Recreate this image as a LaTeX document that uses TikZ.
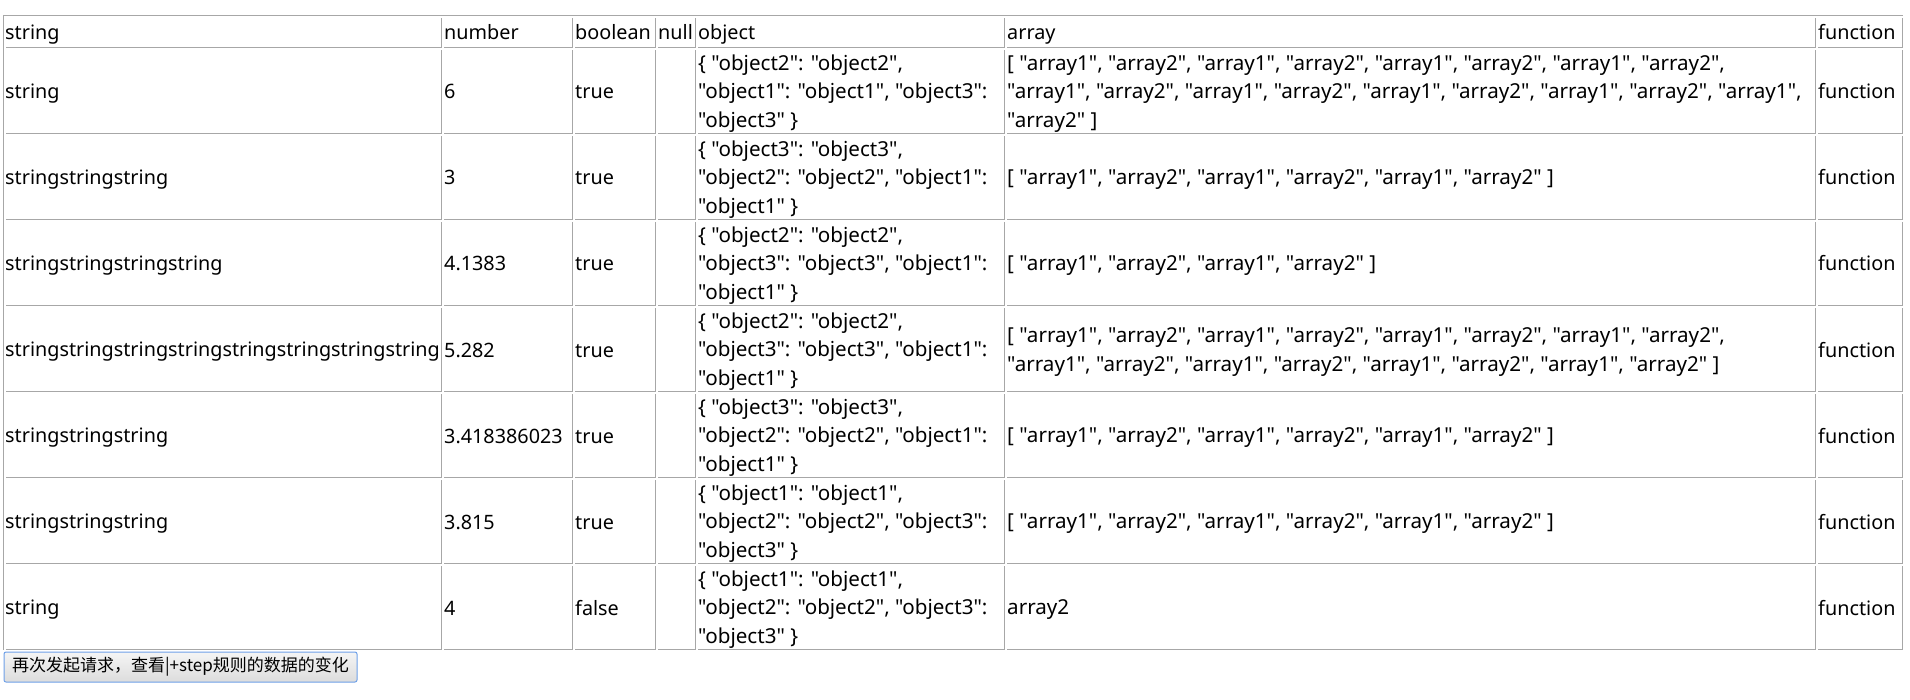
\documentclass[tikz,border=0pt]{standalone}
\usepackage{fontspec}
\setmainfont{Noto Sans}[Ligatures=TeXOff]
\newfontfamily\cjk{Noto Sans CJK SC}
\usepackage{tikz}
\definecolor{gridgray}{RGB}{167,167,167}
\definecolor{btnblue}{RGB}{110,160,232}
\definecolor{btntop}{RGB}{245,245,245}
\definecolor{btnbot}{RGB}{220,220,220}
\newcommand\rs{\rule[-4.5pt]{0pt}{27pt}}

\begin{document}
\begin{tikzpicture}[x=1pt, y=-1pt,
    cell/.style={anchor=west, inner sep=0pt, align=left, font=\fontsize{19.8}{27}\selectfont},
    wide/.style={cell, font=\fontsize{20.6}{27}\selectfont},
    gridline/.style={draw=gridgray, line width=1pt},
    btnbox/.style={draw=btnblue, line width=1pt, rounded corners=2pt, top color=btntop, bottom color=btnbot,
      minimum width=353pt, minimum height=30pt, inner sep=0pt, font=\cjk\fontsize{17}{20}\selectfont}]
  \useasboundingbox (0,0) rectangle (1910,700);
  % table frame and cells
  \draw[gridline] (3,15.5) -- (1903,15.5);
  \draw[gridline] (3.5,15) -- (3.5,650);
  \foreach \t/\b in {15/47,47/133,133/219,219/305,305/391,391/477,477/563,563/649}
    \foreach \l/\r in {3/441,441/572,572/655,655/695,695/1004,1004/1815,1815/1902}
      \draw[gridline] (\l+3,\b+.5) -- (\r+.5,\b+.5) -- (\r+.5,\t+3);

  \foreach \x/\h [count=\i] in {5/string,444/number,575/boolean,658/null,698/object,1007/array,1818/function}
    \node[cell] (h\i) at (\x,31) {\rs\h};

  \foreach \s/\n/\b [count=\r] in {string/6/true, stringstringstring/3/true,
      stringstringstringstring/4.1383/true,
      stringstringstringstringstringstringstringstring/5.282/true,
      stringstringstring/3.418386023/true, stringstringstring/3.815/true, string/4/false}
  {
    \node[cell] (s\r) at (5,4+86*\r) {\rs\s};
    \node[cell] (n\r) at (444,4+86*\r) {\rs\n};
    \node[cell] (b\r) at (575,4+86*\r) {\rs\b};
    \node[cell] (f\r) at (1818,4+86*\r) {\rs function};
  }

  \node[wide] (o1) at (698,90) {\rs\{ "object2": "object2",\\\rs "object1": "object1", "object3":\\\rs "object3" \}};
  \node[wide] (o2) at (698,176) {\rs\{ "object3": "object3",\\\rs "object2": "object2", "object1":\\\rs "object1" \}};
  \node[wide] (o3) at (698,262) {\rs\{ "object2": "object2",\\\rs "object3": "object3", "object1":\\\rs "object1" \}};
  \node[wide] (o4) at (698,348) {\rs\{ "object2": "object2",\\\rs "object3": "object3", "object1":\\\rs "object1" \}};
  \node[wide] (o5) at (698,434) {\rs\{ "object3": "object3",\\\rs "object2": "object2", "object1":\\\rs "object1" \}};
  \node[wide] (o6) at (698,520) {\rs\{ "object1": "object1",\\\rs "object2": "object2", "object3":\\\rs "object3" \}};
  \node[wide] (o7) at (698,606) {\rs\{ "object1": "object1",\\\rs "object2": "object2", "object3":\\\rs "object3" \}};

  \node[wide] (a1) at (1007,90) {\rs[ "array1", "array2", "array1", "array2", "array1", "array2", "array1", "array2",\\\rs "array1", "array2", "array1", "array2", "array1", "array2", "array1", "array2", "array1",\\\rs "array2" ]};
  \node[wide] (a2) at (1007,176) {\rs[ "array1", "array2", "array1", "array2", "array1", "array2" ]};
  \node[wide] (a3) at (1007,262) {\rs[ "array1", "array2", "array1", "array2" ]};
  \node[wide] (a4) at (1007,348) {\rs[ "array1", "array2", "array1", "array2", "array1", "array2", "array1", "array2",\\\rs "array1", "array2", "array1", "array2", "array1", "array2", "array1", "array2" ]};
  \node[wide] (a5) at (1007,434) {\rs[ "array1", "array2", "array1", "array2", "array1", "array2" ]};
  \node[wide] (a6) at (1007,520) {\rs[ "array1", "array2", "array1", "array2", "array1", "array2" ]};
  \node[wide] (a7) at (1007,606) {\rs array2};

  \node[btnbox] (btn) at (180.5,667) {再次发起请求，查看|+step规则的数据的变化};
\end{tikzpicture}
\end{document}
